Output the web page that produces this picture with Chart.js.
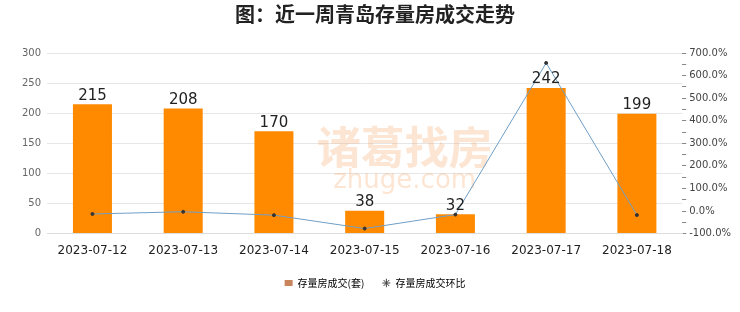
<!DOCTYPE html>
<html>
<head>
<meta charset="utf-8">
<script src="https://cdn.jsdelivr.net/npm/chart.js@4"></script>
<style>
  html, body { margin: 0; padding: 0; background: #fff; }
  #wrap { width: 740px; height: 312px; }
</style>
</head>
<body>
<div id="wrap"><canvas id="chart" width="740" height="312"></canvas></div>
<script>
const dias = ["2023-07-12", "2023-07-13", "2023-07-14", "2023-07-15", "2023-07-16", "2023-07-17", "2023-07-18"];
const cantidad = [215, 208, 170, 38, 32, 242, 199];
const huanbi = [-13, -3.3, -18.3, -77.6, -15.8, 656, -17.8];

// marca de agua tenue
const marcaAgua = {
  id: "marcaAgua",
  beforeDatasetsDraw(chart) {
    const { ctx, chartArea } = chart;
    const cx = (chartArea.left + chartArea.right) / 2;
    const cy = (chartArea.top + chartArea.bottom) / 2;
    ctx.save();
    ctx.fillStyle = "rgba(245,170,110,0.3)";
    ctx.textAlign = "center";
    ctx.font = "bold 44px 'Noto Sans CJK SC'";
    ctx.fillText("诸葛找房", cx + 40, cy + 4);
    ctx.font = "26px 'DejaVu Sans'";
    ctx.fillText("zhuge.com", cx + 40, cy + 38);
    ctx.restore();
  }
};

// etiquetas encima de las barras
const etiquetas = {
  id: "etiquetas",
  afterDatasetsDraw(chart) {
    const { ctx } = chart;
    const meta = chart.getDatasetMeta(1);
    ctx.save();
    ctx.fillStyle = "#222";
    ctx.font = "15px 'DejaVu Sans'";
    ctx.textAlign = "center";
    ctx.textBaseline = "bottom";
    meta.data.forEach((bar, i) => {
      ctx.fillText(cantidad[i], bar.x, bar.y - 1);
    });
    ctx.restore();
  }
};

new Chart(document.getElementById("chart"), {
  data: {
    labels: dias,
    datasets: [
      {
        type: "line",
        label: "存量房成交环比",
        data: huanbi,
        yAxisID: "y1",
        borderColor: "#6f9fc6",
        borderWidth: 1,
        pointRadius: 1.5,
        pointBackgroundColor: "#333",
        pointBorderColor: "#333",
        tension: 0,
        order: 0,
      },
      {
        type: "bar",
        label: "存量房成交(套)",
        data: cantidad,
        yAxisID: "y",
        backgroundColor: "#ff8a00",
        barPercentage: 0.43,
        categoryPercentage: 1,
        order: 1,
      },
    ],
  },
  options: {
    responsive: false,
    animation: false,
    layout: { padding: { left: 16, right: 6, top: 0, bottom: 14 } },
    plugins: {
      title: {
        display: true,
        text: "图：近一周青岛存量房成交走势",
        color: "#222",
        font: { size: 20, family: "'Noto Sans CJK SC'", weight: "bold" },
        padding: { top: 2, bottom: 27 },
      },
      legend: {
        position: "bottom",
        labels: {
          color: "#333",
          font: { size: 10, family: "'Noto Sans CJK SC'" },
          usePointStyle: true,
          pointStyleWidth: 8,
          boxHeight: 6,
          padding: 18,
          generateLabels() {
            return [
              { text: "存量房成交(套)", fillStyle: "#c8845a", strokeStyle: "#c8845a", lineWidth: 0, pointStyle: "rect", datasetIndex: 1 },
              { text: "存量房成交环比", fillStyle: "#333", strokeStyle: "#444", lineWidth: 1, pointStyle: "star", datasetIndex: 0 },
            ];
          },
        },
      },
      tooltip: { enabled: false },
    },
    scales: {
      x: {
        grid: { display: false },
        border: { color: "#ddd" },
        ticks: { color: "#222", font: { size: 12, family: "'DejaVu Sans'" }, padding: 2 },
      },
      y: {
        position: "left",
        min: 0,
        max: 300,
        ticks: { stepSize: 50, color: "#666", font: { size: 10, family: "'DejaVu Sans'" }, padding: 6 },
        grid: { color: "#e6e6e6", drawTicks: false },
        border: { display: false },
      },
      y1: {
        position: "right",
        min: -100,
        max: 700,
        ticks: {
          stepSize: 50,
          color: "#444",
          font: { size: 10, family: "'DejaVu Sans'" },
          padding: 3,
          autoSkip: false,
          callback: (v) => (v % 100 === 0 ? v.toFixed(1) + "%" : ""),
        },
        grid: { drawOnChartArea: false, tickLength: 4, color: "#888" },
        border: { display: false },
      },
    },
  },
  plugins: [marcaAgua, etiquetas],
});
</script>
</body>
</html>
